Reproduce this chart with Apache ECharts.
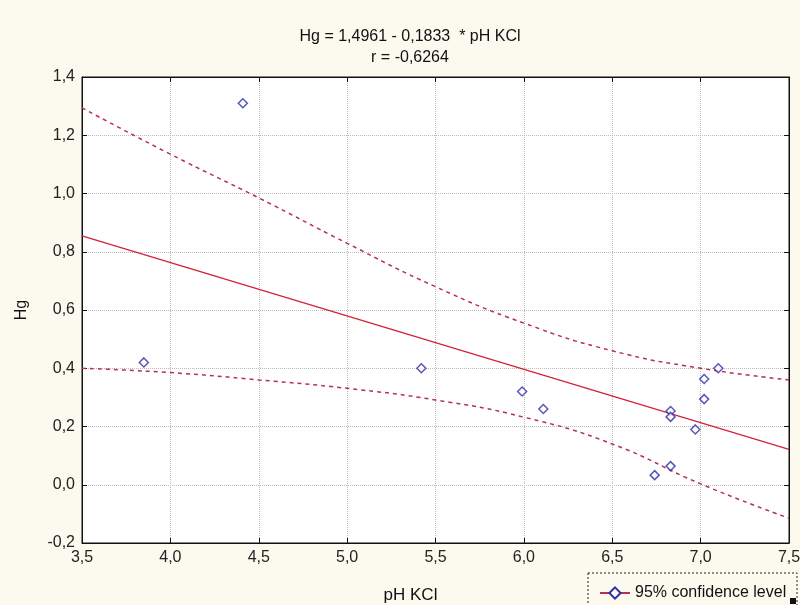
<!DOCTYPE html>
<html>
<head>
<meta charset="utf-8">
<script src="https://cdn.jsdelivr.net/npm/echarts@6/dist/echarts.min.js"></script>
<style>
  html, body { margin: 0; padding: 0; background: #fcf9ef; }
  #container { width: 800px; height: 605px; }
</style>
</head>
<body>
<div id="container"></div>
<script>
// observed points (pH KCl, Hg)
var phValues = [4.41, 3.85, 5.42, 5.99, 6.11, 6.83, 6.83, 6.97, 7.02, 7.02, 7.10, 6.74, 6.83];
var hgValues = [1.31, 0.42, 0.40, 0.32, 0.26, 0.253, 0.233, 0.19, 0.363, 0.294, 0.40, 0.033, 0.064];

// fitted line ends (Hg = 1,4961 - 0,1833 * pH KCl)
var fitX = [3.5, 7.5];
var fitY = [0.8545, 0.1214];

// 95% confidence bands
var bandX = [3.5, 4.0, 4.5, 5.0, 5.5, 6.0, 6.5, 7.0, 7.5];
var upperY = [1.294, 1.135, 0.985, 0.829, 0.68, 0.555, 0.46, 0.40, 0.36];
var lowerY = [0.40, 0.385, 0.36, 0.331, 0.291, 0.232, 0.14, 0.003, -0.115];

function pairs(xs, ys) {
    return xs.map(function (x, i) { return [x, ys[i]]; });
}
function comma(v) {
    return v.toFixed(1).replace('.', ',');
}

var dom = document.getElementById('container');
var myChart = echarts.init(dom);

var bandColor = '#b8304e';
var fitColor = '#d42438';
var dotColor = '#2e2ea6';

var option = {
    backgroundColor: '#fcf9ef',
    animation: false,
    textStyle: { fontFamily: 'Liberation Sans, Arial, sans-serif' },
    title: {
        text: 'Hg = 1,4961 - 0,1833  * pH KCl',
        subtext: 'r = -0,6264',
        left: 405,
        textAlign: 'center',
        top: 24,
        itemGap: 5,
        textStyle: { fontSize: 16, fontWeight: 'normal', color: '#111' },
        subtextStyle: { fontSize: 16, color: '#111' }
    },
    legend: {
        data: ['95% confidence level'],
        left: 594,
        top: 580,
        itemWidth: 30,
        itemHeight: 14,
        itemGap: 4,
        textStyle: { fontSize: 16, color: '#111' }
    },
    graphic: [{
        type: 'rect',
        shape: { x: 588, y: 573, width: 209, height: 40 },
        style: { fill: 'transparent', stroke: '#222', lineWidth: 1, lineDash: [2, 2] },
        z: 10
    }, {
        type: 'rect',
        shape: { x: 790, y: 598, width: 6, height: 6 },
        style: { fill: '#111' },
        z: 10
    }],
    grid: {
        left: 82, right: 11, top: 77, bottom: 62,
        outerBoundsMode: 'none',
        containLabel: false,
        show: true,
        backgroundColor: '#ffffff',
        borderColor: '#111',
        borderWidth: 1
    },
    xAxis: [{
        type: 'value',
        min: 3.5, max: 7.5, interval: 0.5,
        name: 'pH KCl',
        nameLocation: 'middle',
        nameGap: 44,
        nameTextStyle: { fontSize: 17, color: '#111', padding: [0, 50, 0, 0] },
        axisLine: { onZero: false, lineStyle: { color: '#111' } },
        axisTick: { inside: true, length: 5, lineStyle: { color: '#111' } },
        axisLabel: { fontSize: 16, color: '#222', margin: 7, formatter: comma },
        splitLine: { show: true, lineStyle: { color: '#bbbbbb', type: 'dotted' } }
    }, {
        type: 'value',
        position: 'top',
        min: 3.5, max: 7.5, interval: 0.5,
        axisLine: { onZero: false, lineStyle: { color: '#111' } },
        axisTick: { inside: true, length: 5, lineStyle: { color: '#111' } },
        axisLabel: { show: false },
        splitLine: { show: false }
    }],
    yAxis: [{
        type: 'value',
        min: -0.2, max: 1.4, interval: 0.2,
        name: 'Hg',
        nameLocation: 'middle',
        nameGap: 52,
        nameRotate: 90,
        nameTextStyle: { fontSize: 16, color: '#111' },
        axisLine: { show: true, onZero: false, lineStyle: { color: '#111' } },
        axisTick: { show: true, inside: true, length: 5, lineStyle: { color: '#111' } },
        axisLabel: { fontSize: 16, color: '#222', margin: 7, formatter: comma },
        splitLine: { show: true, lineStyle: { color: '#bbbbbb', type: 'dotted' } }
    }, {
        type: 'value',
        position: 'right',
        min: -0.2, max: 1.4, interval: 0.2,
        axisLine: { show: true, onZero: false, lineStyle: { color: '#111' } },
        axisTick: { show: true, inside: true, length: 5, lineStyle: { color: '#111' } },
        axisLabel: { show: false },
        splitLine: { show: false }
    }],
    series: [{
        name: 'upper',
        type: 'line',
        data: pairs(bandX, upperY),
        smooth: true,
        showSymbol: false,
        lineStyle: { color: bandColor, width: 1.5, type: [4, 4] },
        z: 2
    }, {
        name: 'lower',
        type: 'line',
        data: pairs(bandX, lowerY),
        smooth: true,
        showSymbol: false,
        lineStyle: { color: bandColor, width: 1.5, type: [4, 4] },
        z: 2
    }, {
        name: 'fit',
        type: 'line',
        data: pairs(fitX, fitY),
        showSymbol: false,
        lineStyle: { color: fitColor, width: 1.5 },
        z: 3
    }, {
        name: 'points',
        type: 'scatter',
        data: pairs(phValues, hgValues),
        symbol: 'diamond',
        symbolSize: 9,
        itemStyle: { color: '#ffffff', borderColor: dotColor, borderWidth: 1.5 },
        z: 4
    }, {
        name: '95% confidence level',
        type: 'line',
        data: [],
        symbol: 'diamond',
        symbolSize: 8,
        itemStyle: { color: '#ffffff', borderColor: dotColor, borderWidth: 1.5 },
        lineStyle: { color: bandColor, width: 1.5 }
    }]
};

if (option && typeof option === 'object') {
    myChart.setOption(option, true);
}
</script>
</body>
</html>
